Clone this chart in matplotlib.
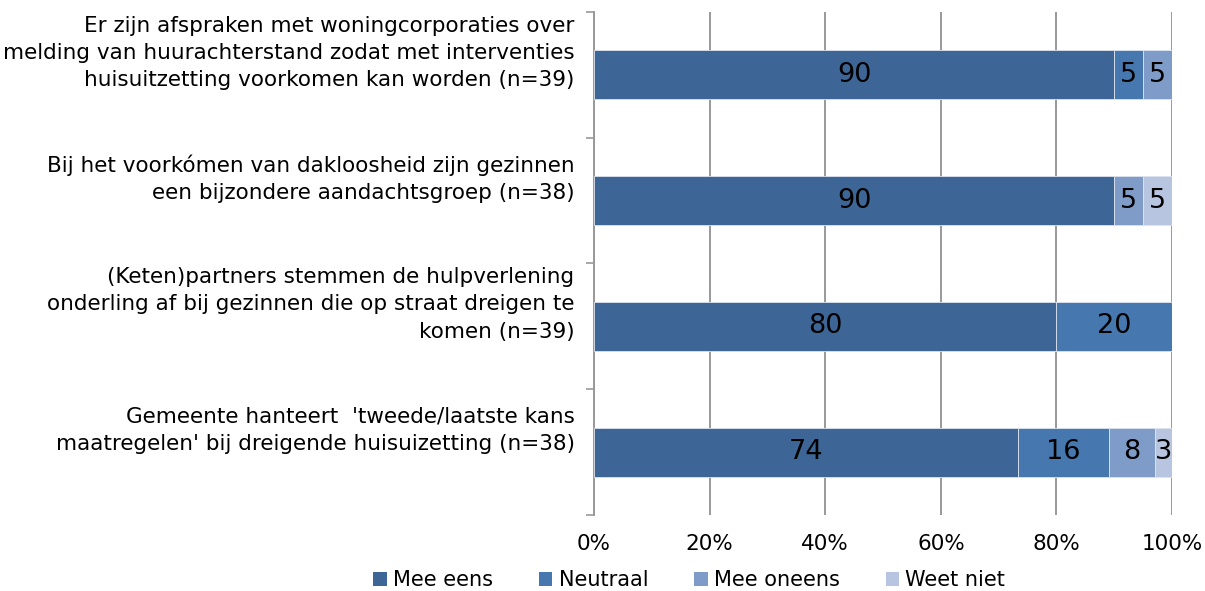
import numpy as np
import matplotlib.pyplot as plt
from matplotlib.patches import Patch

categories = [
    "Er zijn afspraken met woningcorporaties over\nmelding van huurachterstand zodat met interventies\nhuisuitzetting voorkomen kan worden (n=39)",
    "Bij het voorkómen van dakloosheid zijn gezinnen\neen bijzondere aandachtsgroep (n=38)",
    "(Keten)partners stemmen de hulpverlening\nonderling af bij gezinnen die op straat dreigen te\nkomen (n=39)",
    "Gemeente hanteert  'tweede/laatste kans\nmaatregelen' bij dreigende huisuizetting (n=38)",
]
series = ["Mee eens", "Neutraal", "Mee oneens", "Weet niet"]
mee_eens = [90, 90, 80, 74]
neutraal = [5, 0, 20, 16]
mee_oneens = [5, 5, 0, 8]
weet_niet = [0, 5, 0, 3]

colors = ["#3D6595", "#4677AE", "#7F9CC8", "#B8C5E0"]

data = np.array([mee_eens, neutraal, mee_oneens, weet_niet], dtype=float)
totals = data.sum(axis=0)
shares = data / totals * 100

fig = plt.figure(figsize=(12.05, 5.91), dpi=100)
ax = fig.add_axes([0.493, 0.1286, 0.4797, 0.8511])

y = np.arange(len(categories))[::-1]
left = np.zeros(len(categories))
for vals, share, col in zip(data, shares, colors):
    ax.barh(y, share, left=left, height=0.39, color=col, edgecolor="#DDE3EE",
            linewidth=0.6, zorder=3)
    for yi, v, s, l in zip(y, vals, share, left):
        if v > 0:
            ax.text(l + s / 2, yi, f"{int(v)}", ha="center", va="center",
                    fontsize=19.5, color="black", zorder=4)
    left += share

ax.set_xlim(0, 100)
ax.set_ylim(-0.5, len(categories) - 0.5)
ax.set_xticks(np.arange(0, 101, 20))
ax.set_xticklabels([f"{v}%" for v in range(0, 101, 20)], fontsize=15.5)
ax.tick_params(axis="x", length=0, pad=14)
ax.grid(axis="x", color="#999999", linewidth=1.4, zorder=0)

ax.set_yticks(y + 0.22)
ax.set_yticklabels(categories, fontsize=15.5, linespacing=1.45)
ax.tick_params(axis="y", which="major", length=0, pad=14)
ax.set_yticks(np.arange(-0.5, len(categories)), minor=True)
ax.tick_params(axis="y", which="minor", length=6, width=1.2, color="#999999")

for side in ["top", "right", "bottom"]:
    ax.spines[side].set_visible(False)
ax.spines["left"].set_color("#999999")
ax.spines["left"].set_linewidth(1.4)

handles = [Patch(facecolor=c, label=s) for c, s in zip(colors, series)]
fig.legend(handles=handles, loc="lower center", bbox_to_anchor=(0.572, -0.03),
           ncol=4, frameon=False, fontsize=15, handlelength=0.65, handleheight=0.65,
           handletextpad=0.3, columnspacing=2.2)

fig.savefig("out.png", dpi=100)
